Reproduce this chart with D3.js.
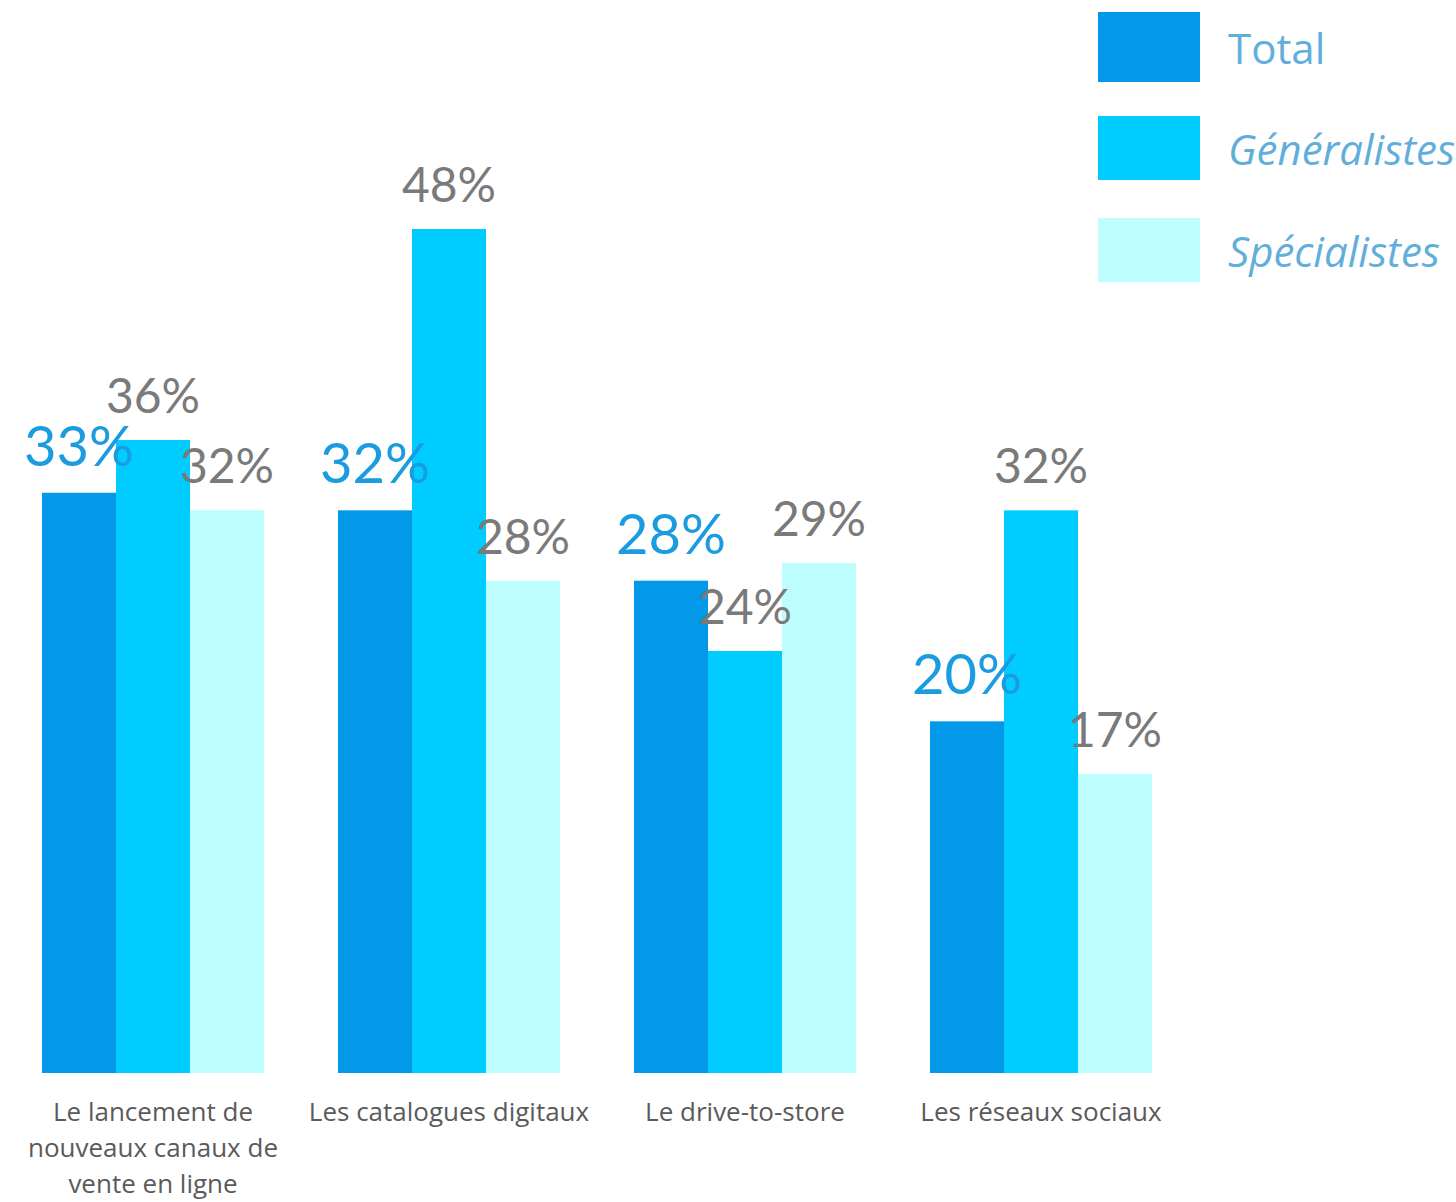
<!DOCTYPE html>
<html><head><meta charset="utf-8">
<script src="https://cdn.jsdelivr.net/npm/d3@7"></script>
<style>body{margin:0;background:#fff;}svg{display:block;}</style>
</head><body>
<svg id="chart" width="1456" height="1202"></svg>
<script>
const categories = [["Le lancement de","nouveaux canaux de","vente en ligne"],["Les catalogues digitaux"],["Le drive-to-store"],["Les réseaux sociaux"]];
const seriesNames = ["Total","Généralistes","Spécialistes"];
const totalValues = [33,32,28,20];
const generalistesValues = [36,48,24,32];
const specialistesValues = [32,28,29,17];
const colors = ["#0399e8","#00ccff","#bdfdfe"];

const svg = d3.select("#chart");
const series = [totalValues, generalistesValues, specialistesValues];
const idx = d3.range(categories.length);

const x0 = d3.scaleBand().domain(idx).range([42,1152]).paddingInner(0.25).paddingOuter(0);
const x1 = d3.scaleBand().domain(d3.range(3)).range([0,x0.bandwidth()]).padding(0);
const y = d3.scaleLinear().domain([0,48]).range([1073,229]);

const g = svg.append("g");
idx.forEach(i=>{
  series.forEach((s,j)=>{
    g.append("rect")
      .attr("x", x0(i)+x1(j)).attr("width", x1.bandwidth())
      .attr("y", y(s[i])).attr("height", y(0)-y(s[i]))
      .attr("fill", colors[j]);
  });
});
idx.forEach(i=>{
  series.forEach((s,j)=>{
    g.append("text")
      .attr("x", x0(i)+x1(j)+x1.bandwidth()/2)
      .attr("y", y(s[i]) - 27)
      .attr("text-anchor","middle")
      .attr("font-family","Lato, 'Open Sans', sans-serif")
      .attr("font-weight", 400)
      .attr("font-size", j===0 ? 56 : 48)
      .attr("fill", j===0 ? "#1b9be0" : "#7a7a7a")
      .text(s[i] + "%");
  });
});

// category labels
idx.forEach(i=>{
  const t = g.append("text")
    .attr("x", x0(i)+x0.bandwidth()/2)
    .attr("y", 1121)
    .attr("text-anchor","middle")
    .attr("font-family","'Open Sans', sans-serif")
    .attr("font-size", 26)
    .attr("fill","#5a5a5a");
  categories[i].forEach((line,k)=>{
    t.append("tspan").attr("x", x0(i)+x0.bandwidth()/2).attr("dy", k===0?0:36).text(line);
  });
});

// legend
const legendY = [12,116,218];
const legendH = [70,64,64];
seriesNames.forEach((name,j)=>{
  svg.append("rect").attr("x",1098).attr("y",legendY[j]).attr("width",102).attr("height",legendH[j]).attr("fill",colors[j]);
  svg.append("text").attr("x",1228).attr("y",legendY[j]+legendH[j]/2+17)
    .attr("font-family","'Open Sans', sans-serif")
    .attr("font-size",42)
    .attr("font-style", j===0 ? "normal" : "italic")
    .attr("fill","#62aedb")
    .text(name);
});
</script>
</body></html>
